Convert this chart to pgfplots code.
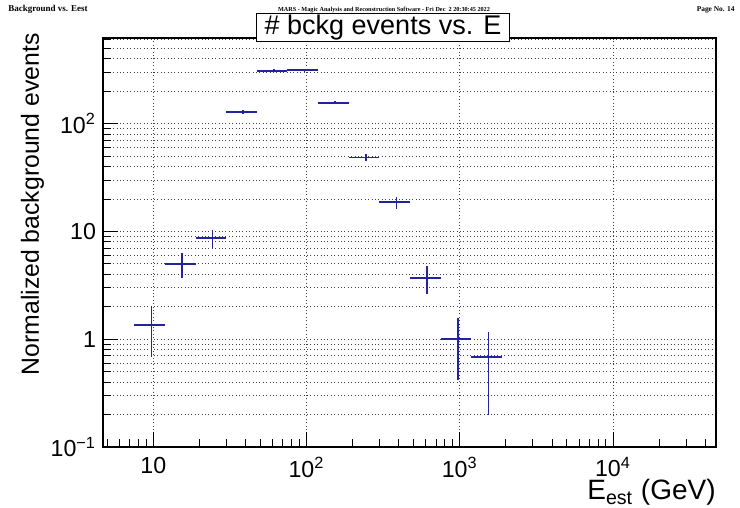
\documentclass[border=0pt]{standalone}
\usepackage{fontspec}
\setmainfont{Liberation Sans}
\newfontfamily\hdrfont{Liberation Serif}
\usepackage{pgfplots}
\pgfplotsset{compat=1.18}
\definecolor{rootblue}{RGB}{35,35,160}

% one row per energy bin: linear bin centre, half width, events, error
\pgfplotstableread{
x       ex      y      ey
9.713   2.197   1.35   0.67
15.40   3.485   5.02   1.28
24.40   5.52    8.7    1.7
38.67   8.75    128    6
61.29   13.87   310    10
97.13   21.98   315    10
153.9   34.85   156    5
244.0   55.2    48.8   3.8
386.7   87.5    18.7   2.4
612.9   138.7   3.7    1.08
971.3   219.8   1.0    0.58
1539.5  348.5   0.68   0.48
}\bckg

\begin{document}
\begin{tikzpicture}[x=0.5pt,y=0.5pt]
\path[use as bounding box, fill=white] (0,0) rectangle (740,508);

% page header
\node[anchor=base west, inner sep=0, font=\hdrfont\bfseries\fontsize{4.5}{5}\selectfont]
  at (8,496) {Background vs. Eest};
\node[anchor=base, inner sep=0, font=\hdrfont\bfseries\fontsize{3.1}{4}\selectfont]
  at (384,496) {MARS - Magic Analysis and Reconstruction Software - Fri Dec\ \ 2 20:30:45 2022};
\node[anchor=base east, inner sep=0, font=\hdrfont\bfseries\fontsize{3.7}{4}\selectfont]
  at (735,496) {Page No. 14};

\begin{axis}[
  at={(51.5pt,30.5pt)}, anchor=south west,
  scale only axis, width=306.5pt, height=204.5pt,
  xmode=log, ymode=log,
  xmin=4.7, xmax=47000, ymin=0.1, ymax=625,
  xtick={10,100,1000,10000},
  xticklabels={10, 10\textsuperscript{2}, 10\textsuperscript{3}, 10\textsuperscript{4}},
  minor xtick={5,6,7,8,9,20,30,40,50,60,70,80,90,200,300,400,500,600,700,800,900,
               2000,3000,4000,5000,6000,7000,8000,9000,20000,30000,40000},
  ytick={0.1,1,10,100},
  yticklabels={10\textsuperscript{\char"2212 1}, 1, 10, 10\textsuperscript{2}},
  minor ytick={0.2,0.3,0.4,0.5,0.6,0.7,0.8,0.9,2,3,4,5,6,7,8,9,
               20,30,40,50,60,70,80,90,200,300,400,500,600},
  tick align=inside, tick pos=left,
  major tick length=7.5pt, minor tick length=4pt,
  tick style={black, line width=0.5pt},
  axis line style={black, line width=0.8pt},
  xmajorgrids, ymajorgrids, yminorgrids,
  major grid style={black!75, line width=0.45pt, dash pattern=on 0.5pt off 1.2pt},
  minor grid style={black!75, line width=0.45pt, dash pattern=on 0.5pt off 1.2pt},
  tick label style={font=\fontsize{11.6}{13}\selectfont},
  xticklabel style={yshift=-1.5pt},
  clip=false,
]
\addplot[draw=none, mark=none,
  error bars/.cd, x dir=both, x explicit, y dir=both, y explicit,
  error mark=none, error bar style={draw=rootblue, line width=0.8pt}]
  table[x=x, y=y, x error=ex, y error=ey] {\bckg};
\end{axis}

% axis titles
\node[anchor=base east, inner sep=0, font=\fontsize{14}{16}\selectfont]
  at (716,8) {E\textsubscript{est} (GeV)};
\node[anchor=base east, inner sep=0, rotate=90, font=\fontsize{12.4}{15}\selectfont]
  at (39,475) {Normalized background events};

% title box
\node[draw=black, line width=0.5pt, fill=white, minimum width=126.5pt, minimum height=14pt,
      inner sep=0, font=\fontsize{13.5}{15}\selectfont]
  at (383,480) {\# bckg events vs. E};
\end{tikzpicture}
\end{document}
